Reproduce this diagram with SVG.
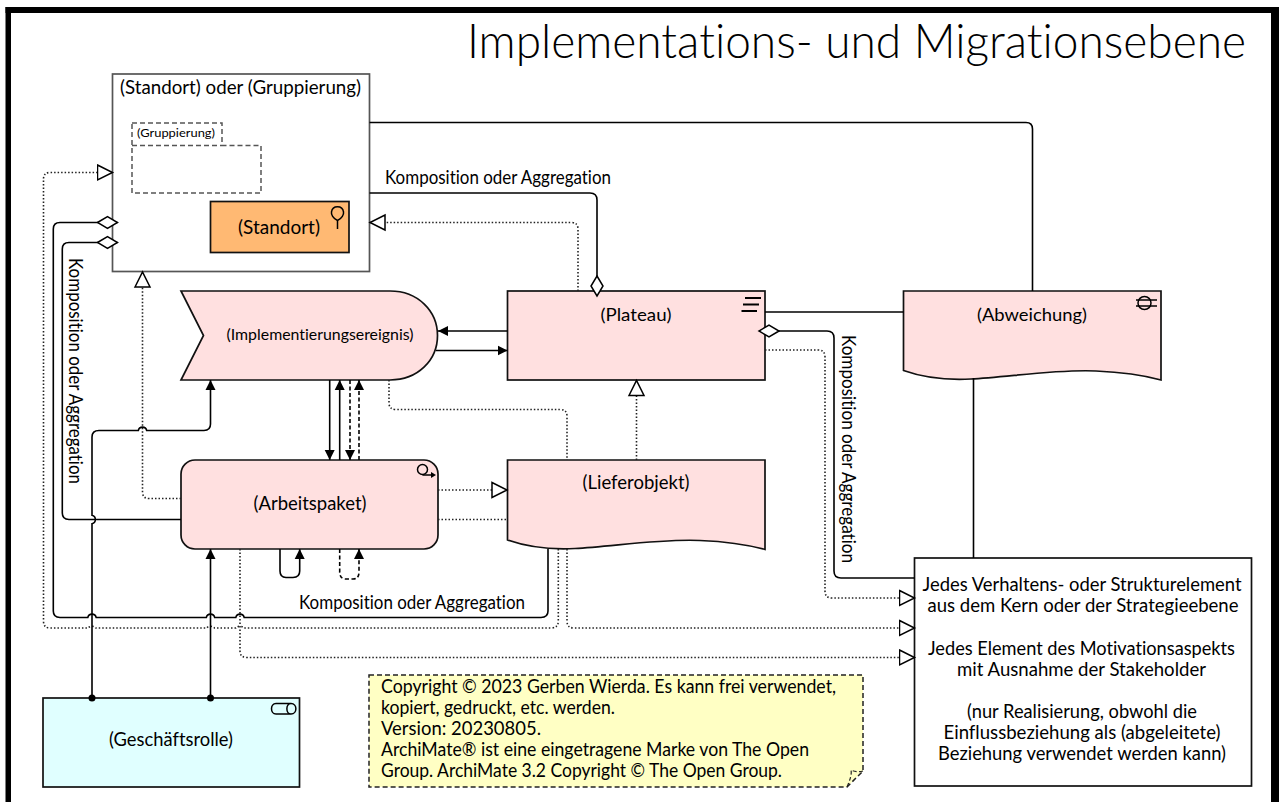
<svg xmlns="http://www.w3.org/2000/svg" width="1279" height="802" viewBox="0 0 1279 802">
<style>
text{font-family:"Lato","Open Sans","Liberation Sans",sans-serif;font-size:18.5px;fill:#000;text-anchor:middle;font-variant-ligatures:none}
.s{fill:none;stroke:#000;stroke-width:1.6}
.d{fill:none;stroke:#222;stroke-width:1.6;stroke-dasharray:1.5 2}
.da{fill:none;stroke:#000;stroke-width:1.6;stroke-dasharray:4 2.5}
.n{stroke:#111;stroke-width:1.7}
.p{fill:#FFE0E0}
.i{fill:none;stroke:#000;stroke-width:1.5}
</style>
<defs>
<marker id="fa" markerUnits="userSpaceOnUse" markerWidth="12" markerHeight="12" refX="10" refY="6" orient="auto"><path d="M0,1 L10,6 L0,11 Z" fill="#000"/></marker>
<marker id="ha" markerUnits="userSpaceOnUse" markerWidth="20" markerHeight="20" refX="16" refY="10" orient="auto"><path d="M1,2.5 L16,10 L1,17.5 Z" fill="#fff" stroke="#000" stroke-width="1.5"/></marker>
<marker id="di" markerUnits="userSpaceOnUse" markerWidth="24" markerHeight="16" refX="21" refY="8" orient="auto"><path d="M1,8 L11,2 L21,8 L11,14 Z" fill="#fff" stroke="#000" stroke-width="1.5"/></marker>
<marker id="dot" markerUnits="userSpaceOnUse" markerWidth="10" markerHeight="10" refX="5" refY="5"><circle cx="5" cy="5" r="3.500" fill="#000"/></marker>
</defs>
<rect width="1279" height="802" fill="#fff"/>
<g id="frame"><rect x="5.500" y="7" width="5.500" height="795" fill="#000"/><rect x="5.500" y="7" width="1273.500" height="6" fill="#000"/><rect x="1271" y="7" width="8" height="795" fill="#000"/></g>
<text id="title" x="856.500" y="58" style="font-size:48px;font-weight:300" textLength="779" lengthAdjust="spacingAndGlyphs">Implementations- und Migrationsebene</text>

<g id="group-standort">
<rect x="112.500" y="74" width="257" height="197.500" fill="#fff" stroke="#555" stroke-width="1.700"/>
<text x="240.500" y="94" textLength="241" lengthAdjust="spacingAndGlyphs">(Standort) oder (Gruppierung)</text>
</g>
<g id="gruppierung">
<path d="M132,123 H222 V145.500 H261 V193 H132 Z M132,145.500 H222" fill="none" stroke="#555" stroke-width="1.500" stroke-dasharray="5 3"/>
<text x="176" y="137" style="font-size:12px" textLength="78" lengthAdjust="spacingAndGlyphs">(Gruppierung)</text>
</g>
<g id="standort">
<rect x="210.500" y="201.500" width="138.500" height="51" fill="#FFB973" class="n"/>
<text x="279" y="234" textLength="82" lengthAdjust="spacingAndGlyphs">(Standort)</text>
<path class="i" d="M337.500,229 V220.500 M337.500,220.500 C333,218.500 331,214.500 331.500,212 C332.500,205 342.500,205 343.500,212 C344,214.500 342,218.500 337.500,220.500"/>
</g>
<g id="ereignis">
<path class="n p" d="M181,291 H390 C418,291 437.500,311 437.500,335.500 C437.500,360 418,380 390,380 H181 L203.500,335.500 Z"/>
<text x="320" y="340" style="font-size:15.500px" textLength="187" lengthAdjust="spacingAndGlyphs">(Implementierungsereignis)</text>
</g>
<g id="arbeitspaket">
<rect x="181" y="460" width="257" height="89" rx="14" class="n p"/>
<text x="310" y="510" textLength="113" lengthAdjust="spacingAndGlyphs">(Arbeitspaket)</text>
<circle class="i" cx="422.500" cy="469.500" r="5"/>
<path class="i" d="M422.500,475 H433"/><path d="M431,472 L436,475 L431,478 Z" fill="#000"/>
</g>
<g id="plateau">
<rect x="507.500" y="291" width="257.500" height="89" class="n p"/>
<text x="636" y="321" style="font-size:17.500px" textLength="71" lengthAdjust="spacingAndGlyphs">(Plateau)</text>
<path class="i" style="stroke-width:2" d="M745,298 H761 M743,304.500 H759 M741.500,311 H757"/>
</g>
<g id="lieferobjekt">
<path class="n p" d="M507.500,460 H765 V549.500 C745,544 725,541.500 700,540.500 C660,538.500 610,547 575,548.500 C555,549.500 530,548 507.500,540 Z"/>
<text x="636" y="489" textLength="107" lengthAdjust="spacingAndGlyphs">(Lieferobjekt)</text>
</g>
<g id="abweichung">
<path class="n p" d="M903.500,291 H1161 V380 C1141,374.500 1121,372 1096,371 C1056,369 1006,377.500 971,379 C951,380 926,378.500 903.500,370.500 Z"/>
<text x="1032" y="321" style="font-size:17.500px" textLength="110" lengthAdjust="spacingAndGlyphs">(Abweichung)</text>
<circle class="i" cx="1144.500" cy="303" r="6.500"/>
<path class="i" d="M1136,300 H1157 M1136,306 H1157"/>
</g>
<g id="geschaeftsrolle">
<rect x="43" y="698" width="256.500" height="89" fill="#E0FFFF" class="n"/>
<text x="171" y="746" textLength="124" lengthAdjust="spacingAndGlyphs">(Geschäftsrolle)</text>
<path class="i" d="M276,703.500 H291 C297.500,703.500 297.500,714 291,714 H276 C270,714 270,703.500 276,703.500 Z M291,703.500 C285.500,703.500 285.500,714 291,714"/>
</g>
<g id="elemente">
<rect x="914.500" y="558" width="337" height="228" fill="#fff" class="n"/>
<text x="1082" y="591" textLength="319" lengthAdjust="spacingAndGlyphs">Jedes Verhaltens- oder Strukturelement</text>
<text x="1083" y="612" textLength="311" lengthAdjust="spacingAndGlyphs">aus dem Kern oder der Strategieebene</text>
<text x="1081.500" y="654.500" textLength="307" lengthAdjust="spacingAndGlyphs">Jedes Element des Motivationsaspekts</text>
<text x="1081.500" y="675.500" textLength="249" lengthAdjust="spacingAndGlyphs">mit Ausnahme der Stakeholder</text>
<text x="1082" y="717.500" textLength="230" lengthAdjust="spacingAndGlyphs">(nur Realisierung, obwohl die</text>
<text x="1082" y="738.500" textLength="277" lengthAdjust="spacingAndGlyphs">Einflussbeziehung als (abgeleitete)</text>
<text x="1082" y="759.500" textLength="288" lengthAdjust="spacingAndGlyphs">Beziehung verwendet werden kann)</text>
</g>
<g id="notiz">
<path d="M369,675 H863 V771 L847,787 H369 Z" fill="#FFFFC4" stroke="#222" stroke-width="1.500" stroke-dasharray="5 3"/>
<path d="M847,787 C850,780 852,774 851,770 C855,772 859,772 863,771" fill="none" stroke="#222" stroke-width="1.200" stroke-dasharray="4 2.500"/>
<text x="381" y="693" style="text-anchor:start" textLength="455" lengthAdjust="spacingAndGlyphs">Copyright © 2023 Gerben Wierda. Es kann frei verwendet,</text>
<text x="381" y="714" style="text-anchor:start" textLength="234" lengthAdjust="spacingAndGlyphs">kopiert, gedruckt, etc. werden.</text>
<text x="381" y="735" style="text-anchor:start" textLength="160" lengthAdjust="spacingAndGlyphs">Version: 20230805.</text>
<text x="381" y="756" style="text-anchor:start" textLength="428" lengthAdjust="spacingAndGlyphs">ArchiMate® ist eine eingetragene Marke von The Open</text>
<text x="381" y="777" style="text-anchor:start" textLength="401" lengthAdjust="spacingAndGlyphs">Group. ArchiMate 3.2 Copyright © The Open Group.</text>
</g>

<g id="connectors">
<path class="s" d="M369.500,122.500 H1026 Q1032.500,122.500 1032.500,129 V291"/>
<path class="s" d="M369.500,193 H590 Q597,193 597,200 V296" marker-end="url(#di)"/>
<path class="d" d="M578,291 V229 Q578,222.500 571,222.500 H370" marker-end="url(#ha)"/>
<path class="d" d="M181,498.500 H149 Q142.500,498.500 142.500,492 V272" marker-end="url(#ha)"/>
<path class="s" d="M914.500,578 H841 Q834,578 834,571 V338 Q834,331 827,331 H759" marker-end="url(#di)"/>
<path class="d" d="M765,350 H818 Q825,350 825,357 V591 Q825,598 832,598 H914.500" marker-end="url(#ha)"/>
<path class="d" d="M636.500,460 V380.500" marker-end="url(#ha)"/>
<path class="s" d="M765,312 H903.500"/>
<path class="s" d="M973.500,378 V558"/>
<path class="s" d="M507.500,331 H438" marker-end="url(#fa)"/>
<path class="s" d="M436,350.500 H507.500" marker-end="url(#fa)"/>
<path class="s" d="M329.700,380 V460" marker-end="url(#fa)"/>
<path class="s" d="M339.700,460 V380" marker-end="url(#fa)"/>
<path class="da" d="M350,380 V460" marker-end="url(#fa)"/>
<path class="da" d="M359,460 V380" marker-end="url(#fa)"/>
<path class="s" d="M280,549 V571 Q280,577.500 286,577.500 H293 Q299.700,577.500 299.700,571 V549" marker-end="url(#fa)"/>
<path class="da" d="M339.700,549 V572 Q339.700,579 346,579 H353 Q359,579 359,572 V549" marker-end="url(#fa)"/>
<path class="d" d="M438,490 H507" marker-end="url(#ha)"/>
<path class="d" d="M438,519.500 H507.500 M558.300,549 V621 Q558.300,628 551,628 H244 A5.500,5.500 0 0 0 236,628 H214.500 A5.500,5.500 0 0 0 206.500,628 H96 A5.500,5.500 0 0 0 88,628 H50 Q43.500,628 43.500,621 V179 Q43.500,172.500 50,172.500 H112.500" marker-end="url(#ha)"/>
<path class="d" d="M389,380 V403 Q389,409.500 396,409.500 H560 Q567,409.500 567,416 V460 M567,549 V621 Q567,628 574,628 H914.500" marker-end="url(#ha)"/>
<path class="d" d="M240,549 V651 Q240,657.500 247,657.500 H914.500" marker-end="url(#ha)"/>
<path class="s" d="M548,549 V611 Q548,617.500 541,617.500 H244.200 A4.300,4.300 0 0 0 235.800,617.500 H214.700 A4.300,4.300 0 0 0 206.300,617.500 H96.200 A4.300,4.300 0 0 0 87.800,617.500 H60 Q53.300,617.500 53.300,611 V229 Q53.300,222.500 60,222.500 H117.500" marker-end="url(#di)"/>
<path class="s" d="M181,519.500 H69 Q62.300,519.500 62.300,513 V249 Q62.300,242.500 69,242.500 H117.500" marker-end="url(#di)"/>
<path class="s" d="M92,698 V523.700 A4.300,4.300 0 0 0 92,515.300 V437 Q92,430.500 99,430.500 H138.300 A4.300,4.300 0 0 1 146.700,430.500 H204 Q210.500,430.500 210.500,424 V380" marker-start="url(#dot)" marker-end="url(#fa)"/>
<path class="s" d="M210.500,698 V549" marker-start="url(#dot)" marker-end="url(#fa)"/>
<text x="498" y="183.500" textLength="226" lengthAdjust="spacingAndGlyphs">Komposition oder Aggregation</text>
<text x="412" y="608.500" textLength="226" lengthAdjust="spacingAndGlyphs">Komposition oder Aggregation</text>
<text transform="translate(69,371) rotate(90)" textLength="226" lengthAdjust="spacingAndGlyphs">Komposition oder Aggregation</text>
<text transform="translate(842,449) rotate(90)" textLength="228" lengthAdjust="spacingAndGlyphs">Komposition oder Aggregation</text>
</g>
</svg>
